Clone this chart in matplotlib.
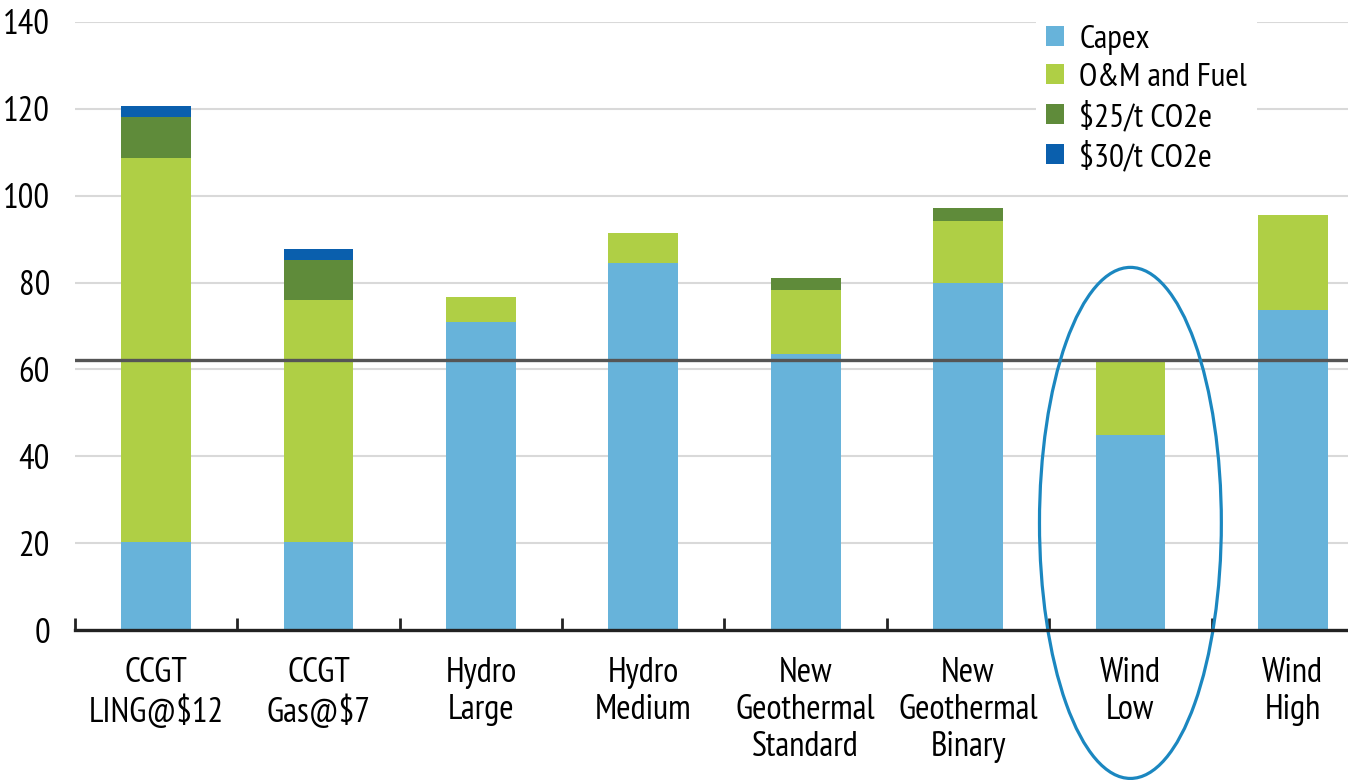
import numpy as np
import matplotlib
matplotlib.use("Agg")
import matplotlib.pyplot as plt
from matplotlib.patches import Ellipse

plt.rcParams['font.family'] = ['PT Sans Narrow', 'Roboto Condensed', 'DejaVu Sans']

categories = ["CCGT\nLING@$12", "CCGT\nGas@$7", "Hydro\nLarge", "Hydro\nMedium",
              "New\nGeothermal\nStandard", "New\nGeothermal\nBinary", "Wind\nLow", "Wind\nHigh"]
capex = [20.4, 20.4, 70.9, 84.4, 63.6, 79.9, 45.0, 73.6]
om_fuel = [88.3, 55.6, 5.8, 7.1, 14.6, 14.2, 17.3, 21.9]
co2_25 = [9.3, 9.2, 0, 0, 2.9, 3.0, 0, 0]
co2_30 = [2.6, 2.6, 0, 0, 0, 0, 0, 0]
series_names = ["Capex", "O&M and Fuel", "$25/t CO2e", "$30/t CO2e"]
colors = ["#67b3da", "#afcf45", "#5f8b3a", "#0a5fad"]
benchmark = 62.3

fig = plt.figure(figsize=(13.48, 7.8), dpi=100)
ax = fig.add_axes([0.0556, 0.192, 0.9444, 0.78])

x = np.arange(len(categories))
bottom = np.zeros(len(categories))
for vals, name, col in zip([capex, om_fuel, co2_25, co2_30], series_names, colors):
    ax.bar(x, vals, width=0.43, bottom=bottom, color=col, label=name, zorder=2)
    bottom += np.array(vals)

ax.axhline(benchmark, color="#555555", lw=2.4, zorder=3)

# highlight ellipse around Wind Low
ell = Ellipse((6.0, 24.7), 1.12, 117.6, fill=False, edgecolor="#1b87c0",
              lw=2.3, clip_on=False, zorder=4)
ax.add_patch(ell)

ax.set_xlim(-0.5, 7.34)
ax.set_ylim(0, 140)
ax.set_yticks(np.arange(0, 141, 20))
ax.grid(axis="y", color="#d9d9d9", lw=1.5, zorder=0)
ax.set_axisbelow(True)

ax.set_xticks(x)
ax.set_xticklabels(categories, fontsize=25, linespacing=1.2)
ax.set_xticks(np.arange(-0.5, 7.5, 1), minor=True)
ax.tick_params(axis="x", which="major", length=0, pad=19)
ax.tick_params(axis="x", which="minor", direction="in", length=9, width=2, color="#222222")
ax.tick_params(axis="y", length=0, pad=18, labelsize=25)

for s in ["top", "right", "left"]:
    ax.spines[s].set_visible(False)
ax.spines["bottom"].set_linewidth(2.4)
ax.spines["bottom"].set_color("#222222")
ax.spines["bottom"].set_zorder(5)

leg = ax.legend(loc="upper left", bbox_to_anchor=(0.755, 1.012), fontsize=24,
                frameon=True, facecolor="white", edgecolor="white", framealpha=1,
                handlelength=0.55, handleheight=0.55, handletextpad=0.45,
                labelspacing=0.25, borderaxespad=0, borderpad=0.3)
leg.get_frame().set_linewidth(0)
leg.set_zorder(6)

fig.savefig("out.png", dpi=100)
